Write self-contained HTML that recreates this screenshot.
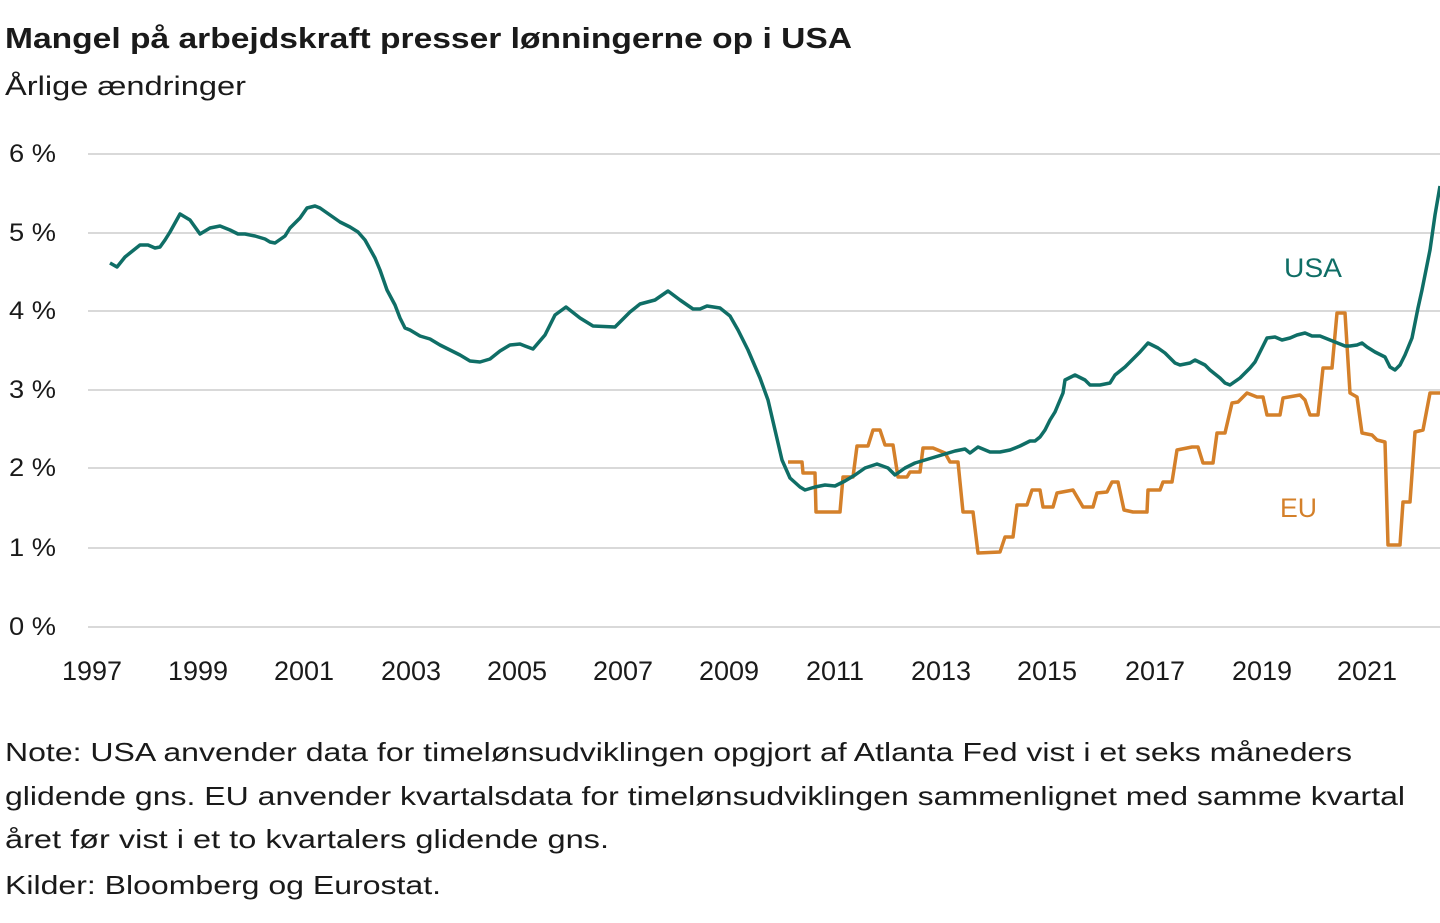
<!DOCTYPE html>
<html><head><meta charset="utf-8"><style>
html,body{margin:0;padding:0;background:#fff;}
svg{display:block;}
text{font-family:"Liberation Sans",sans-serif;fill:#1a1a1a;}
</style></head><body>
<svg width="1440" height="923" viewBox="0 0 1440 923" xmlns="http://www.w3.org/2000/svg">
<text x="5" y="48" font-size="29" font-weight="bold" textLength="847" lengthAdjust="spacingAndGlyphs" fill="#000">Mangel på arbejdskraft presser lønningerne op i USA</text>
<text x="5" y="95" font-size="27" textLength="241" lengthAdjust="spacingAndGlyphs">Årlige ændringer</text>
<g stroke="#d9d9d9" stroke-width="2">
<line x1="88" y1="154" x2="1440" y2="154"/>
<line x1="88" y1="233" x2="1440" y2="233"/>
<line x1="88" y1="311" x2="1440" y2="311"/>
<line x1="88" y1="390" x2="1440" y2="390"/>
<line x1="88" y1="468" x2="1440" y2="468"/>
<line x1="88" y1="548" x2="1440" y2="548"/>
<line x1="88" y1="627" x2="1440" y2="627"/>
</g>
<g font-size="25">
<text x="9" y="162" textLength="47" lengthAdjust="spacingAndGlyphs">6 %</text>
<text x="9" y="241" textLength="47" lengthAdjust="spacingAndGlyphs">5 %</text>
<text x="9" y="319" textLength="47" lengthAdjust="spacingAndGlyphs">4 %</text>
<text x="9" y="398" textLength="47" lengthAdjust="spacingAndGlyphs">3 %</text>
<text x="9" y="476" textLength="47" lengthAdjust="spacingAndGlyphs">2 %</text>
<text x="9" y="556" textLength="47" lengthAdjust="spacingAndGlyphs">1 %</text>
<text x="9" y="635" textLength="47" lengthAdjust="spacingAndGlyphs">0 %</text>
</g>
<g font-size="27" text-anchor="middle">
<text x="92" y="680">1997</text><text x="198" y="680">1999</text><text x="304" y="680">2001</text>
<text x="411" y="680">2003</text><text x="517" y="680">2005</text><text x="623" y="680">2007</text>
<text x="729" y="680">2009</text><text x="835" y="680">2011</text><text x="941" y="680">2013</text>
<text x="1047" y="680">2015</text><text x="1155" y="680">2017</text><text x="1262" y="680">2019</text>
<text x="1367" y="680">2021</text>
</g>
<polyline fill="none" stroke="#d4802a" stroke-width="3.5" stroke-linejoin="round" points="788,462 802,462 803,473 815,473 816,512 840,512 843,477 853,477 857,446 868,446 873,430 880,430 885,445 893,445 898,477 907,477 910,472 920,472 923,448 933,448 945,453 950,462 958,462 963,512 973,512 978,553 1000,552 1005,537 1013,537 1017,505 1027,505 1032,490 1040,490 1043,507 1053,507 1057,493 1073,490 1083,507 1093,507 1097,493 1107,492 1112,482 1118,482 1124,510 1133,512 1147,512 1148,490 1160,490 1163,482 1172,482 1177,450 1192,447 1198,447 1203,463 1213,463 1217,433 1225,433 1232,403 1238,402 1247,393 1257,397 1263,397 1267,415 1280,415 1283,398 1300,395 1305,400 1310,415 1318,415 1323,368 1332,368 1337,313 1345,313 1350,393 1357,397 1362,433 1372,435 1377,440 1385,442 1388,545 1400,545 1403,502 1410,502 1415,432 1423,430 1430,393 1440,393"/>
<polyline fill="none" stroke="#0f6e66" stroke-width="3.5" stroke-linejoin="round" points="110,263 117,267 125,257 140,245 148,245 155,248 160,247 165,240 170,232 180,214 190,220 200,234 210,228 220,226 230,230 238,234 245,234 255,236 265,239 270,242 275,243 285,236 290,228 300,218 307,208 315,206 320,208 330,215 340,222 350,227 358,232 365,240 375,258 380,270 387,290 395,305 400,318 405,328 410,330 420,336 430,339 440,345 450,350 460,355 470,361 480,362 490,359 500,351 510,345 520,344 525,346 533,349 545,335 555,315 566,307 580,318 593,326 615,327 630,312 640,304 655,300 668,291 680,300 693,309 700,309 707,306 720,308 730,316 738,330 748,350 760,378 768,400 775,430 782,460 790,478 800,487 805,490 815,487 825,485 835,486 845,481 855,475 865,468 877,464 888,468 895,475 905,468 915,463 925,460 935,457 945,454 955,451 965,449 970,453 978,447 990,452 1000,452 1010,450 1020,446 1030,441 1035,441 1040,437 1045,430 1050,420 1055,412 1063,393 1065,380 1075,375 1085,380 1090,385 1100,385 1110,383 1115,375 1125,367 1130,362 1140,352 1148,343 1158,348 1165,353 1175,363 1180,365 1190,363 1195,360 1205,365 1210,370 1220,378 1225,383 1230,385 1240,378 1250,368 1255,362 1262,348 1267,338 1275,337 1282,340 1290,338 1297,335 1305,333 1312,336 1320,336 1330,340 1335,342 1345,346 1350,346 1357,345 1362,343 1367,347 1375,352 1385,357 1390,367 1395,370 1400,365 1405,355 1412,338 1418,308 1422,290 1430,250 1435,215 1440,186"/>
<text x="1284" y="277" font-size="27" fill="#0f6e66" style="fill:#0f6e66" textLength="58" lengthAdjust="spacingAndGlyphs">USA</text>
<text x="1280" y="517" font-size="27" style="fill:#d4802a" textLength="37" lengthAdjust="spacingAndGlyphs">EU</text>
<g font-size="26">
<text x="5" y="761" textLength="1347" lengthAdjust="spacingAndGlyphs">Note: USA anvender data for timelønsudviklingen opgjort af Atlanta Fed vist i  et seks måneders</text>
<text x="5" y="805" textLength="1400" lengthAdjust="spacingAndGlyphs">glidende gns. EU anvender kvartalsdata for timelønsudviklingen sammenlignet med samme kvartal</text>
<text x="5" y="848" textLength="604" lengthAdjust="spacingAndGlyphs">året før vist i  et to kvartalers glidende gns.</text>
<text x="5" y="894" textLength="436" lengthAdjust="spacingAndGlyphs">Kilder: Bloomberg og Eurostat.</text>
</g>
</svg>
</body></html>
